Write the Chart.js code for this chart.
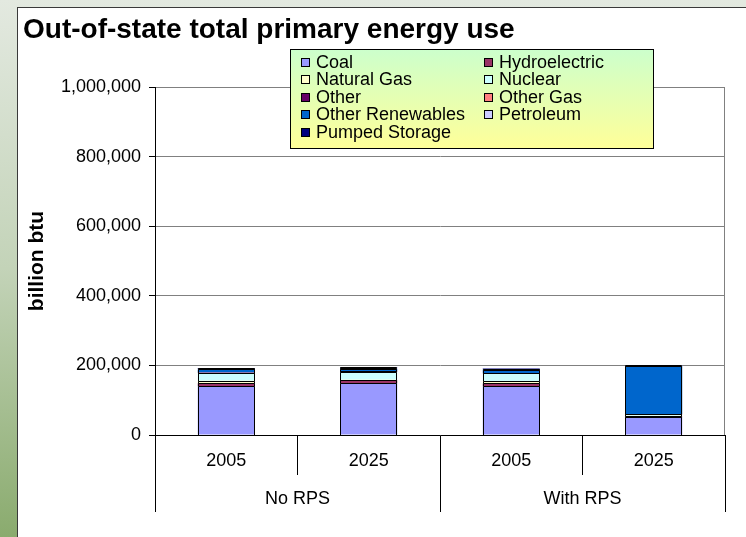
<!DOCTYPE html>
<html>
<head>
<meta charset="utf-8">
<script src="https://cdn.jsdelivr.net/npm/chart.js@4.4.0/dist/chart.umd.min.js"></script>
<style>
html, body { margin: 0; padding: 0; background: #dfe6dc; }
#wrap { width: 746px; height: 537px; }
</style>
</head>
<body>
<div id="wrap"><canvas id="energyChart" width="746" height="537"></canvas></div>
<script>
// categories
const scenarios = ['No RPS', 'With RPS'];
const years = ['2005', '2025', '2005', '2025'];

// axis
const yMin = 0;
const yMax = 1000000;
const yStep = 200000;

// series values (billion btu), order: No RPS 2005, No RPS 2025, With RPS 2005, With RPS 2025
const coal            = [141000, 149000, 140000, 51000];
const hydroelectric   = [8000, 8000, 8000, 2000];
const naturalGas      = [7000, 2000, 7000, 2000];
const nuclear         = [22000, 22000, 22000, 4000];
const other           = [1000, 1500, 1000, 1000];
const otherGas        = [500, 500, 500, 500];
const otherRenewables = [9000, 7000, 9000, 138000];
const petroleum       = [1500, 1500, 1500, 1000];
const pumpedStorage   = [2000, 2500, 2000, 2000];

const FONT = '"Liberation Sans", Arial, sans-serif';
Chart.defaults.font.family = FONT;
Chart.defaults.color = '#000';

function series(label, data, color) {
  return {
    label: label,
    data: data,
    backgroundColor: color,
    borderWidth: 0,
    barPercentage: 0.4,
    categoryPercentage: 1.0
  };
}

// page background, chart frame, bar outlines, title and legend
const frame = {
  id: 'frame',
  beforeDraw(chart) {
    const c = chart.ctx;
    const w = chart.width, h = chart.height;
    c.save();
    const g = c.createLinearGradient(0, 0, 0, h);
    g.addColorStop(0, '#e3e9e0');
    g.addColorStop(0.5, '#c3d3b8');
    g.addColorStop(1, '#8aab6e');
    c.fillStyle = g;
    c.fillRect(0, 0, w, h);
    c.fillStyle = '#fff';
    c.fillRect(17, 8, w - 17, h - 8);
    c.strokeStyle = '#3a3a3a';
    c.lineWidth = 1;
    c.strokeRect(17.5, 7.5, w, h);
    c.restore();
  },
  beforeDatasetsDraw(chart) {
    const c = chart.ctx, a = chart.chartArea;
    c.save();
    c.strokeStyle = '#808080';
    c.lineWidth = 1;
    c.beginPath();
    c.moveTo(Math.round(a.right) - 0.5, a.top);
    c.lineTo(Math.round(a.right) - 0.5, a.bottom);
    c.stroke();
    c.restore();
  },
  afterDatasetsDraw(chart) {
    // excel style 1px outline on every stacked segment
    const c = chart.ctx;
    c.save();
    c.strokeStyle = '#000';
    c.lineWidth = 1;
    chart.data.datasets.forEach((ds, i) => {
      chart.getDatasetMeta(i).data.forEach(bar => {
        const p = bar.getProps(['x', 'y', 'base', 'width'], true);
        const l = Math.round(p.x - p.width / 2) + 0.5;
        const r = Math.round(p.x + p.width / 2) - 0.5;
        const t = Math.round(p.y) + 0.5;
        const b = Math.round(p.base) + 0.5;
        c.beginPath();
        c.moveTo(l, b);
        c.lineTo(l, t);
        c.lineTo(r, t);
        c.lineTo(r, b);
        c.stroke();
      });
    });
    c.restore();
  },
  afterDraw(chart) {
    const c = chart.ctx;
    c.save();
    // title
    c.fillStyle = '#000';
    c.font = 'bold 28px ' + FONT;
    c.textBaseline = 'alphabetic';
    c.textAlign = 'left';
    c.fillText('Out-of-state total primary energy use', 23, 38);

    // legend box
    const lx = 290, ly = 49, lw = 363, lh = 99;
    const g = c.createLinearGradient(0, ly, 0, ly + lh);
    g.addColorStop(0, '#ccffcc');
    g.addColorStop(1, '#ffff99');
    c.fillStyle = g;
    c.fillRect(lx, ly, lw, lh);
    c.strokeStyle = '#000';
    c.strokeRect(lx + 0.5, ly + 0.5, lw, lh);

    c.font = '18px ' + FONT;
    c.textBaseline = 'middle';
    chart.data.datasets.forEach((ds, i) => {
      const col = i % 2, row = Math.floor(i / 2);
      const sx = col === 0 ? 301 : 484;
      const cy = Math.round(62 + row * 17.4);
      c.fillStyle = ds.backgroundColor;
      c.fillRect(sx, cy - 4, 9, 9);
      c.strokeStyle = '#000';
      c.strokeRect(sx + 0.5, cy - 3.5, 8, 8);
      c.fillStyle = '#000';
      c.fillText(ds.label, sx + 15, cy + 1);
    });
    c.restore();
  }
};

new Chart(document.getElementById('energyChart'), {
  type: 'bar',
  data: {
    labels: years,
    datasets: [
      series('Coal', coal, '#9999ff'),
      series('Hydroelectric', hydroelectric, '#993366'),
      series('Natural Gas', naturalGas, '#ffffcc'),
      series('Nuclear', nuclear, '#ccffff'),
      series('Other', other, '#660066'),
      series('Other Gas', otherGas, '#ff8080'),
      series('Other Renewables', otherRenewables, '#0066cc'),
      series('Petroleum', petroleum, '#ccccff'),
      series('Pumped Storage', pumpedStorage, '#000080')
    ]
  },
  options: {
    responsive: false,
    animation: false,
    layout: { padding: { left: 17, top: 87, right: 21, bottom: 0 } },
    plugins: {
      legend: { display: false },
      tooltip: { enabled: false }
    },
    scales: {
      x: {
        stacked: true,
        weight: 0,
        grid: { offset: true, drawOnChartArea: false, tickLength: 40, color: '#000' },
        border: { color: '#000' },
        ticks: { padding: -25, font: { size: 18 }, color: '#000', maxRotation: 0 },
        afterFit: s => { s.height = 40; }
      },
      x2: {
        type: 'category',
        labels: scenarios,
        position: 'bottom',
        offset: true,
        weight: 1,
        grid: { offset: true, drawOnChartArea: false, tickLength: 37, color: '#000' },
        border: { display: false },
        ticks: { padding: -24, font: { size: 18 }, color: '#000', maxRotation: 0 },
        afterFit: s => { s.height = 62; }
      },
      y: {
        stacked: true,
        min: yMin,
        max: yMax,
        ticks: {
          stepSize: yStep,
          padding: 8,
          font: { size: 18 },
          color: '#000',
          callback: v => v.toLocaleString('en-US')
        },
        grid: { color: '#808080', tickColor: '#000', tickLength: 6 },
        border: { color: '#000' },
        title: {
          display: true,
          text: 'billion btu',
          font: { size: 21, weight: 'bold' },
          color: '#000',
          padding: { top: 8, bottom: 0 }
        },
        afterFit: s => { s.width = 138; }
      }
    }
  },
  plugins: [frame]
});
</script>
</body>
</html>
